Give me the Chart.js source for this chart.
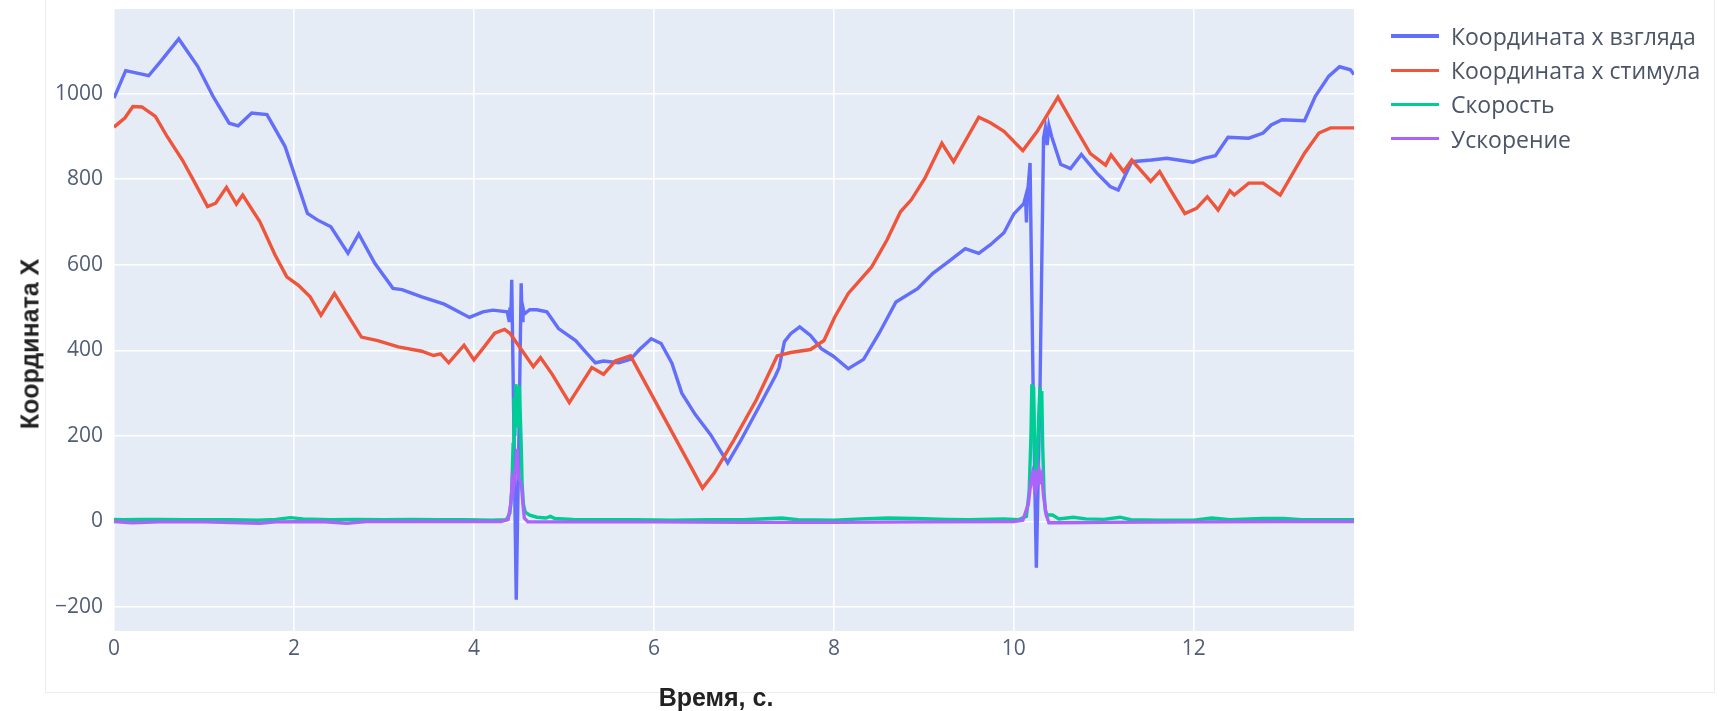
<!DOCTYPE html>
<html lang="ru">
<head>
<meta charset="utf-8">
<title>Координата X</title>
<script src="https://cdn.jsdelivr.net/npm/chart.js@4.4.1/dist/chart.umd.min.js"></script>
<style>
  body { margin: 0; background: #fff; }
  #wrap { position: relative; width: 1728px; height: 711px; overflow: hidden; }
  #frame { position: absolute; left: 45px; top: -1px; width: 1668px; height: 692px; border: 1px solid #ededed; }
  #grafico { position: absolute; left: 0; top: 0; }
  #legenda { position: absolute; left: 1391px; top: 19px; font-family: "Open Sans", sans-serif; font-size: 23px; color: #4b5566; }
  .item { display: flex; align-items: center; height: 34.2px; white-space: nowrap; }
  .linha { width: 48px; height: 3.5px; margin-right: 12px; }
  .titulo { position: absolute; font-family: "Liberation Sans", Arial, sans-serif; font-weight: bold; font-size: 25px; color: #222; white-space: nowrap; }
  #tituloX { left: 716px; top: 697px; transform: translate(-50%, -50%); }
  #tituloY { left: 30px; top: 344px; transform: translate(-50%, -50%) rotate(-90deg); }
</style>
</head>
<body>
<div id="wrap">
  <div id="frame"></div>
  <canvas id="grafico" width="1728" height="711"></canvas>
  <div id="legenda"></div>
  <div class="titulo" id="tituloX">Время, с.</div>
  <div class="titulo" id="tituloY">Координата X</div>
</div>
<script>
const gazeTime = [0, 0.13, 0.385, 0.505, 0.72, 0.93, 1.10, 1.28, 1.38, 1.53, 1.70, 1.90, 2.15, 2.26, 2.41, 2.60, 2.72, 2.90, 3.10, 3.20, 3.42, 3.67, 3.95, 4.10, 4.21, 4.37, 4.39, 4.40, 4.41, 4.42, 4.445, 4.47, 4.50, 4.525, 4.535, 4.545, 4.56, 4.62, 4.70, 4.81, 4.94, 5.13, 5.26, 5.35, 5.44, 5.61, 5.74, 5.84, 5.97, 6.08, 6.20, 6.31, 6.46, 6.63, 6.82, 6.97, 7.18, 7.35, 7.39, 7.45, 7.52, 7.62, 7.74, 7.86, 7.99, 8.16, 8.33, 8.50, 8.69, 8.93, 9.10, 9.27, 9.46, 9.61, 9.74, 9.89, 10.00, 10.11, 10.13, 10.14, 10.15, 10.18, 10.215, 10.25, 10.29, 10.33, 10.35, 10.37, 10.39, 10.42, 10.52, 10.63, 10.75, 10.92, 11.07, 11.16, 11.31, 11.53, 11.70, 11.99, 12.11, 12.24, 12.38, 12.61, 12.77, 12.86, 12.98, 13.23, 13.35, 13.50, 13.62, 13.74, 13.78];
const gazeX = [990, 1054, 1042, 1072, 1128, 1064, 994, 931, 925, 955, 951, 877, 720, 705, 689, 627, 672, 603, 545, 542, 525, 508, 477, 490, 494, 490, 470, 500, 480, 565, 200, -183, 200, 557, 470, 500, 485, 495, 495, 490, 451, 423, 392, 371, 375, 371, 379, 402, 427, 416, 370, 300, 250, 203, 137, 191, 273, 340, 359, 420, 439, 455, 435, 404, 387, 357, 379, 439, 513, 544, 580, 607, 638, 627, 647, 675, 719, 743, 759, 699, 759, 838, 300, -108, 300, 896, 920, 880, 925, 900, 835, 825, 858, 815, 783, 775, 841, 845, 849, 840, 849, 855, 898, 896, 908, 927, 939, 937, 994, 1041, 1063, 1056, 1045];

const stimTime = [0, 0.12, 0.21, 0.31, 0.46, 0.59, 0.76, 0.89, 1.04, 1.13, 1.25, 1.36, 1.43, 1.62, 1.79, 1.92, 2.05, 2.18, 2.30, 2.45, 2.60, 2.75, 2.93, 3.16, 3.42, 3.55, 3.63, 3.72, 3.89, 4.00, 4.12, 4.23, 4.34, 4.40, 4.55, 4.66, 4.74, 4.87, 5.06, 5.31, 5.44, 5.57, 5.74, 6.54, 6.67, 6.89, 7.14, 7.37, 7.52, 7.74, 7.89, 8.01, 8.16, 8.42, 8.59, 8.74, 8.86, 9.01, 9.20, 9.33, 9.61, 9.74, 9.89, 10.10, 10.26, 10.49, 10.67, 10.85, 11.02, 11.08, 11.22, 11.31, 11.52, 11.62, 11.74, 11.90, 12.03, 12.15, 12.27, 12.40, 12.45, 12.61, 12.77, 12.96, 13.23, 13.39, 13.52, 13.78];
const stimX = [922, 943, 970, 969, 947, 900, 845, 795, 736, 744, 781, 742, 763, 701, 623, 572, 552, 525, 482, 533, 482, 431, 423, 408, 398, 388, 392, 371, 412, 378, 410, 440, 449, 440, 395, 362, 383, 344, 278, 360, 344, 375, 387, 78, 113, 191, 285, 387, 395, 402, 423, 478, 533, 595, 658, 724, 752, 802, 884, 841, 945, 932, 912, 867, 912, 992, 925, 860, 833, 857, 818, 845, 795, 818, 775, 720, 732, 759, 728, 773, 763, 791, 791, 763, 861, 908, 920, 920];

const speedTime = [0, 0.1, 0.3, 0.5, 0.8, 1.0, 1.3, 1.6, 1.8, 1.96, 2.1, 2.4, 2.7, 3.0, 3.3, 3.6, 3.9, 4.2, 4.36, 4.40, 4.42, 4.435, 4.445, 4.455, 4.465, 4.475, 4.485, 4.495, 4.505, 4.515, 4.525, 4.535, 4.55, 4.57, 4.62, 4.7, 4.8, 4.85, 4.9, 5.1, 5.4, 5.8, 6.2, 6.6, 7.0, 7.42, 7.6, 8.0, 8.3, 8.6, 8.9, 9.26, 9.5, 9.89, 10.05, 10.14, 10.17, 10.19, 10.20, 10.21, 10.22, 10.23, 10.245, 10.26, 10.275, 10.29, 10.30, 10.31, 10.32, 10.335, 10.35, 10.37, 10.43, 10.5, 10.66, 10.8, 11.0, 11.18, 11.3, 11.6, 12.0, 12.2, 12.4, 12.77, 13.0, 13.2, 13.5, 13.78];
const speedVal = [5, 4, 5, 5, 4, 4, 4, 3, 5, 9, 6, 4, 5, 4, 5, 4, 4, 3, 4, 20, 70, 180, 290, 200, 321, 240, 310, 220, 318, 250, 180, 90, 40, 22, 15, 10, 8, 12, 7, 5, 4, 4, 3, 4, 4, 8, 4, 3, 6, 8, 7, 5, 4, 6, 4, 12, 70, 200, 321, 260, 315, 180, 110, 150, 240, 313, 250, 305, 180, 70, 25, 15, 15, 6, 10, 6, 5, 10, 4, 3, 3, 8, 4, 7, 7, 4, 4, 4];

const accelTime = [0, 0.2, 0.5, 1.0, 1.62, 1.8, 2.3, 2.59, 2.8, 3.5, 4.3, 4.38, 4.41, 4.425, 4.44, 4.455, 4.47, 4.48, 4.49, 4.50, 4.515, 4.53, 4.545, 4.56, 4.6, 5.0, 6.0, 7.0, 8.0, 9.0, 10.0, 10.1, 10.16, 10.19, 10.205, 10.22, 10.235, 10.25, 10.265, 10.28, 10.295, 10.31, 10.33, 10.36, 10.39, 10.5, 11.0, 12.0, 13.0, 13.78];
const accelVal = [0, -3, -1, -1, -4, -1, 0, -4, 0, 0, 0, 5, 40, 95, 80, 110, 140, 170, 120, 100, 95, 80, 40, 8, -1, -1, -1, -2, -2, -1, 0, 3, 40, 95, 110, 90, 120, 80, 95, 120, 100, 110, 60, 15, -3, -3, -2, -1, 0, 0];

const nomes = ['Координата x взгляда', 'Координата x стимула', 'Скорость', 'Ускорение'];
const cores = ['#636efa', '#ef553b', '#00cc96', '#ab63fa'];

const xTicks = [0, 2, 4, 6, 8, 10, 12];
const yTicks = [-200, 0, 200, 400, 600, 800, 1000];

function pontos(ts, vs) {
  return ts.map((t, i) => ({ x: t, y: vs[i] }));
}

function serie(i, ts, vs) {
  return {
    label: nomes[i],
    data: pontos(ts, vs),
    borderColor: cores[i],
    backgroundColor: cores[i],
    borderWidth: 3.4,
    pointRadius: 0,
    tension: 0,
    order: 3 - i
  };
}

const fundo = {
  id: 'fundo',
  beforeDraw(chart) {
    const { ctx, chartArea: a } = chart;
    ctx.save();
    ctx.fillStyle = '#e5ecf6';
    ctx.fillRect(a.left, a.top, a.right - a.left, a.bottom - a.top);
    ctx.restore();
  }
};

const fonteTick = { family: '"Open Sans", sans-serif', size: 21 };

const chart = new Chart(document.getElementById('grafico'), {
  type: 'line',
  data: {
    datasets: [
      serie(0, gazeTime, gazeX),
      serie(1, stimTime, stimX),
      serie(2, speedTime, speedVal),
      serie(3, accelTime, accelVal)
    ]
  },
  options: {
    responsive: false,
    animation: false,
    layout: { padding: { top: 9, right: 374, left: 0, bottom: 0 } },
    plugins: { legend: { display: false }, tooltip: { enabled: false } },
    scales: {
      x: {
        type: 'linear',
        min: 0,
        max: 13.78,
        afterFit: s => { s.height = 80; s.paddingLeft = 0; s.paddingRight = 0; },
        afterBuildTicks: s => { s.ticks = xTicks.map(v => ({ value: v })); },
        grid: { color: '#ffffff', lineWidth: 1.6, drawTicks: false },
        border: { display: false },
        ticks: { font: fonteTick, color: '#525e75', padding: 5 }
      },
      y: {
        min: -256,
        max: 1198,
        afterFit: s => { s.width = 114; s.paddingTop = 0; s.paddingBottom = 0; },
        afterBuildTicks: s => { s.ticks = yTicks.map(v => ({ value: v })); },
        grid: { color: '#ffffff', lineWidth: 1.6, drawTicks: false },
        border: { display: false },
        ticks: {
          font: fonteTick,
          color: '#525e75',
          padding: 11,
          callback: v => v < 0 ? '\u2212' + Math.abs(v) : String(v)
        }
      }
    }
  },
  plugins: [fundo]
});

const legenda = document.getElementById('legenda');
chart.data.datasets.forEach(d => {
  const item = document.createElement('div');
  item.className = 'item';
  item.innerHTML = `<span class="linha" style="background:${d.borderColor}"></span><span>${d.label}</span>`;
  legenda.appendChild(item);
});
</script>
</body>
</html>
